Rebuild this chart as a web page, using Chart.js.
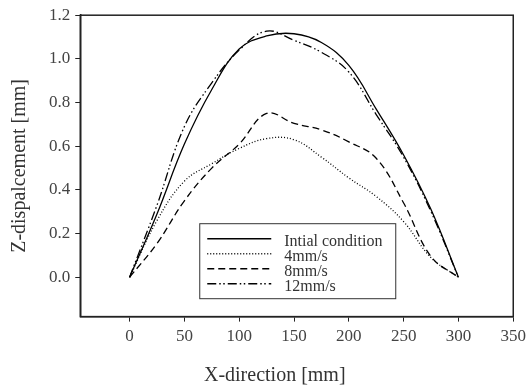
<!DOCTYPE html>
<html>
<head>
<meta charset="utf-8">
<script src="https://cdn.jsdelivr.net/npm/chart.js@4"></script>
<style>
  html, body { margin: 0; padding: 0; background: #fff; }
  #wrap { width: 531px; height: 386px; }
</style>
</head>
<body>
<div id="wrap"><canvas id="zdisp"></canvas></div>
<script>
// X positions [mm] and Z-displacement [mm]
var xPos = [0, 25, 50, 75, 100, 125, 150, 175, 200, 225, 250, 275, 300];
var initial = [0, 0.29, 0.61, 0.86, 1.045, 1.105, 1.115, 1.075, 0.97, 0.77, 0.56, 0.31, 0];
var speed4 = [0, 0.26, 0.44, 0.52, 0.59, 0.635, 0.63, 0.55, 0.455, 0.37, 0.255, 0.09, 0];
var speed8 = [0, 0.155, 0.35, 0.50, 0.61, 0.75, 0.705, 0.675, 0.62, 0.545, 0.34, 0.095, 0];
var speed12 = [0, 0.33, 0.69, 0.89, 1.04, 1.127, 1.085, 1.03, 0.94, 0.745, 0.55, 0.30, 0];

var seriesLabels = ['Intial condition', '4mm/s', '8mm/s', '12mm/s'];
var xTickValues = [0, 50, 100, 150, 200, 250, 300, 350];
var yTickValues = [0, 0.2, 0.4, 0.6, 0.8, 1.0, 1.2];

var serif = "'Liberation Serif', 'DejaVu Serif', serif";

function toPoints(ys) {
    return xPos.map(function (x, i) { return { x: x, y: ys[i] }; });
}

function line(label, ys, dash) {
    return {
        label: label,
        data: toPoints(ys),
        borderColor: '#000',
        borderWidth: 1.3,
        borderDash: dash,
        pointRadius: 0,
        fill: false,
        tension: 0.4
    };
}

// frame around the plot, the boxed legend and the x title
var extras = {
    id: 'extras',
    afterDraw: function (chart) {
        var ctx = chart.ctx;
        var a = chart.chartArea;
        ctx.save();
        ctx.strokeStyle = '#222';
        ctx.lineWidth = 1.5;
        ctx.strokeRect(a.left, a.top, a.right - a.left, a.bottom - a.top);

        // legend box
        var bx = a.left + 119, by = a.top + 208, bw = 196, bh = 75;
        ctx.lineWidth = 1;
        ctx.strokeStyle = '#333';
        ctx.strokeRect(bx + 0.5, by + 0.5, bw, bh);
        ctx.font = '16px ' + serif;
        ctx.textBaseline = 'middle';
        ctx.textAlign = 'left';
        chart.data.datasets.forEach(function (ds, i) {
            var ly = by + 15.5 + i * 15;
            ctx.beginPath();
            ctx.setLineDash(ds.borderDash || []);
            ctx.strokeStyle = '#000';
            ctx.lineWidth = 1.5;
            ctx.moveTo(bx + 8, ly);
            ctx.lineTo(bx + 72, ly);
            ctx.stroke();
            ctx.setLineDash([]);
            ctx.fillStyle = '#333';
            ctx.fillText(ds.label, bx + 85, ly + 3);
        });

        // x axis title
        ctx.font = '20px ' + serif;
        ctx.fillStyle = '#333';
        ctx.textAlign = 'center';
        ctx.fillText('X-direction [mm]', (a.left + a.right) / 2 - 22, a.bottom + 59);
        ctx.restore();
    }
};

new Chart(document.getElementById('zdisp'), {
    type: 'line',
    data: {
        datasets: [
            line(seriesLabels[0], initial, []),
            line(seriesLabels[1], speed4, [1, 2]),
            line(seriesLabels[2], speed8, [7, 4]),
            line(seriesLabels[3], speed12, [9, 3, 1.5, 2.5, 1.5, 3])
        ]
    },
    options: {
        responsive: true,
        maintainAspectRatio: false,
        animation: false,
        layout: { padding: { left: 8, right: 4, top: 1, bottom: 34 } },
        plugins: {
            legend: { display: false },
            tooltip: { enabled: false }
        },
        scales: {
            x: {
                type: 'linear',
                min: -45,
                max: 350,
                afterBuildTicks: function (scale) {
                    scale.ticks = xTickValues.map(function (v) { return { value: v }; });
                },
                grid: { drawOnChartArea: false, drawTicks: true, tickLength: 5, color: '#222' },
                border: { display: true, color: '#222', width: 1.5 },
                ticks: {
                    font: { family: serif, size: 17 },
                    color: '#444',
                    padding: 5,
                    maxRotation: 0
                }
            },
            y: {
                min: -0.18,
                max: 1.2,
                afterBuildTicks: function (scale) {
                    scale.ticks = yTickValues.map(function (v) { return { value: v }; });
                },
                grid: { drawOnChartArea: false, drawTicks: true, tickLength: 5, color: '#222' },
                border: { display: true, color: '#222', width: 1.5 },
                ticks: {
                    font: { family: serif, size: 17 },
                    color: '#444',
                    padding: 5,
                    callback: function (v) { return Number(v).toFixed(1); }
                },
                title: {
                    display: true,
                    text: 'Z-dispalcement [mm]',
                    font: { family: serif, size: 20 },
                    color: '#333',
                    padding: { top: 0, bottom: 12 }
                }
            }
        }
    },
    plugins: [extras]
});
</script>
</body>
</html>
